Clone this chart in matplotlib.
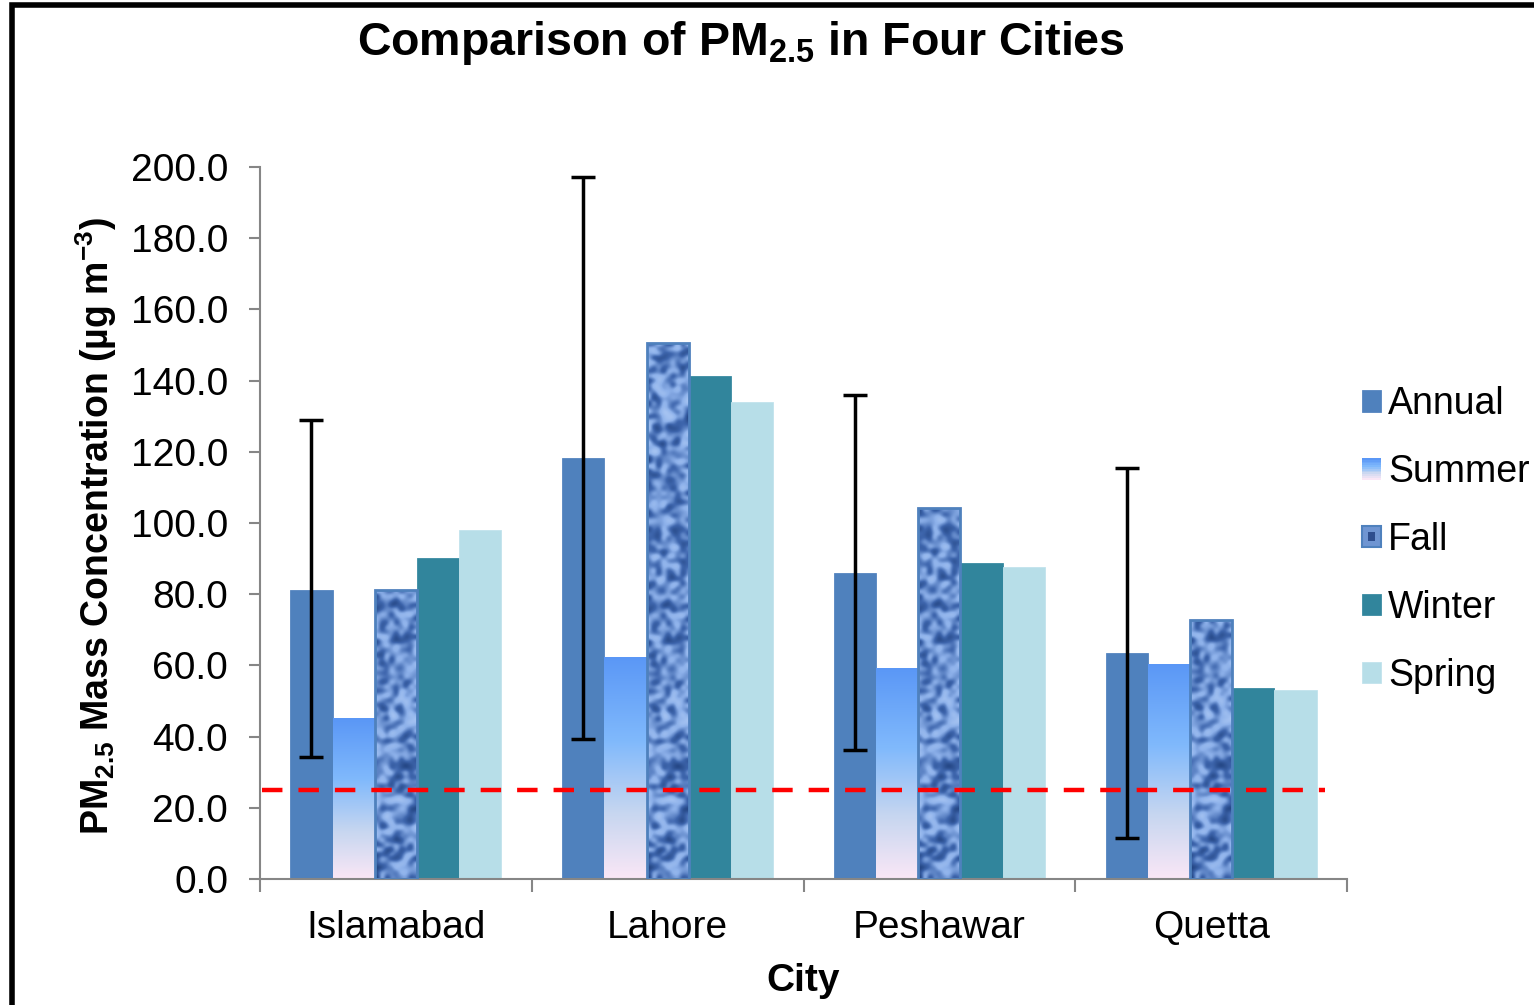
import matplotlib
matplotlib.use('Agg')
import matplotlib.pyplot as plt
import numpy as np
from matplotlib.colors import LinearSegmentedColormap
from matplotlib.patches import Rectangle
from matplotlib.legend_handler import HandlerBase

# values (ug m-3)
cities = ['Islamabad', 'Lahore', 'Peshawar', 'Quetta']
annual = [81.2, 118.3, 86.0, 63.5]
summer = [45.2, 62.4, 59.3, 60.4]
fall = [81.2, 150.6, 104.2, 72.8]
winter = [90.2, 141.3, 88.8, 53.7]
spring = [98.0, 134.0, 87.6, 53.1]
annual_low = [34.3, 39.3, 36.2, 11.5]    # bottom of annual error bar
annual_high = [128.9, 197.2, 136.0, 115.4]  # top of annual error bar
guideline = 25.0

plt.rcParams['font.family'] = ['Liberation Sans', 'DejaVu Sans']
plt.rcParams['mathtext.default'] = 'regular'

c_annual = '#4F81BD'
c_winter = '#31859C'
c_spring = '#B7DEE8'
summer_cmap = LinearSegmentedColormap.from_list(
    'summer', [(0.0, '#FAE7F6'), (0.3, '#C6D6F0'), (0.62, '#80B9FC'), (1.0, '#5A97F6')])
fall_cmap = LinearSegmentedColormap.from_list(
    'fall', [(0.0, '#123068'), (0.4, '#3F67AE'), (0.7, '#8DB1EA'), (1.0, '#B5CFF7')])


def fall_texture(nx, ny):
    # deterministic mottled texture (shader style hash), only for the fill look
    yy, xx = np.mgrid[0:ny, 0:nx].astype(float)
    h = np.sin(12.9898 * xx + 78.233 * yy) * 43758.5453
    h = h - np.floor(h)
    return h ** 0.8


class GradientHandler(HandlerBase):
    def create_artists(self, legend, orig_handle, xd, yd, w, h, fontsize, trans):
        out = []
        n = 12
        for i in range(n):
            out.append(Rectangle((-xd, -yd + h * i / n), w, h / n + 0.2,
                                 facecolor=summer_cmap(i / (n - 1)), edgecolor='none',
                                 transform=trans))
        return out


class TextureHandler(HandlerBase):
    def create_artists(self, legend, orig_handle, xd, yd, w, h, fontsize, trans):
        base = Rectangle((-xd, -yd), w, h, facecolor='#6F95D2', edgecolor=c_annual,
                         lw=1.5, transform=trans)
        spot = Rectangle((-xd + w * 0.3, -yd + h * 0.3), w * 0.4, h * 0.4,
                         facecolor='#2E4E8E', edgecolor='none', transform=trans)
        return [base, spot]


fig = plt.figure(figsize=(15.34, 10.05), dpi=100)
ax = fig.add_axes([260 / 1534, 1 - 879 / 1005, 1087 / 1534, 712 / 1005])

x = np.arange(len(cities))
w = 0.1553

b_annual = ax.bar(x - 2 * w, annual, w, color=c_annual, edgecolor='#5585C0', lw=0.6, zorder=2)

b_summer = ax.bar(x - w, summer, w, color='none', edgecolor='none', zorder=2)
grad = np.linspace(0, 1, 256).reshape(-1, 1)
for bar in b_summer:
    x0, h = bar.get_x(), bar.get_height()
    im = ax.imshow(grad, extent=[x0, x0 + w, 0, h], origin='lower', cmap=summer_cmap,
                   aspect='auto', zorder=2, interpolation='bilinear')
    im.set_clip_path(bar)

b_fall = ax.bar(x, fall, w, color='none', edgecolor=c_annual, lw=2, zorder=3)
for bar in b_fall:
    x0, h = bar.get_x(), bar.get_height()
    ny = int(h * 3.56 / 4.5)
    tex = fall_texture(9, ny)
    im = ax.imshow(tex, extent=[x0, x0 + w, 0, h], origin='lower', cmap=fall_cmap,
                   aspect='auto', zorder=2, interpolation='bicubic')
    im.set_clip_path(bar)

b_winter = ax.bar(x + w, winter, w, color=c_winter, edgecolor='#3A8CA3', lw=0.6, zorder=2)
b_spring = ax.bar(x + 2 * w, spring, w, color=c_spring, edgecolor='#C2E3EC', lw=0.6, zorder=2)

err = [np.array(annual) - np.array(annual_low), np.array(annual_high) - np.array(annual)]
ax.errorbar(x - 2 * w, annual, yerr=err, fmt='none', ecolor='black', elinewidth=2.5,
            capsize=8.5, capthick=2.5, zorder=5)

ax.axhline(guideline, xmin=0.002, xmax=0.98, color='#FF0000', lw=3.2, dashes=(4.6, 3.6), zorder=6)

ax.set_xlim(-0.5, 3.5)
ax.set_ylim(0, 200)
ax.set_yticks(np.arange(0, 201, 20))
ax.yaxis.set_major_formatter('{x:.1f}')
ax.set_xticks(x, cities)
ax.set_xticks(np.arange(-0.5, 4, 1), minor=True)

for s in ['top', 'right']:
    ax.spines[s].set_visible(False)
for s in ['left', 'bottom']:
    ax.spines[s].set_color('#868686')
    ax.spines[s].set_linewidth(1.5)

ax.tick_params(axis='y', direction='out', length=8, width=1.5, color='#868686',
               labelsize=28, pad=15)
ax.tick_params(axis='x', which='major', length=0, labelsize=28, pad=22)
ax.tick_params(axis='x', which='minor', direction='out', length=9, width=1.5, color='#868686')

ax.set_xlabel('City', fontsize=28, fontweight='bold')
ax.xaxis.set_label_coords(0.5, -0.118)
ax.set_ylabel(r'PM$_{2.5}$ Mass Concentration (µg m$^{-3}$)', fontsize=27, fontweight='bold')
ax.yaxis.set_label_coords(-0.13, 0.496)

fig.text(0.483, 0.957, r'Comparison of PM$_{2.5}$ in Four Cities', ha='center', va='center',
         fontsize=33.5, fontweight='bold')

handles = [b_annual, b_summer, b_fall, b_winter, b_spring]
labels = ['Annual', 'Summer', 'Fall', 'Winter', 'Spring']
leg = fig.legend(handles, labels, loc='center left', bbox_to_anchor=(1362 / 1534, 1 - 540 / 1005),
                 frameon=False, fontsize=27, handlelength=0.5, handleheight=0.5,
                 handletextpad=0.2, labelspacing=0.85, borderpad=0, borderaxespad=0,
                 handler_map={b_summer: GradientHandler(), b_fall: TextureHandler()})

# black frame around the chart area (cut off at right and bottom in the reference)
fig.add_artist(Rectangle((12 / 1534, -0.2), 1.3, 1.2 - 5 / 1005, transform=fig.transFigure,
                         fill=False, edgecolor='black', lw=4))

fig.savefig('out.png', dpi=100)
